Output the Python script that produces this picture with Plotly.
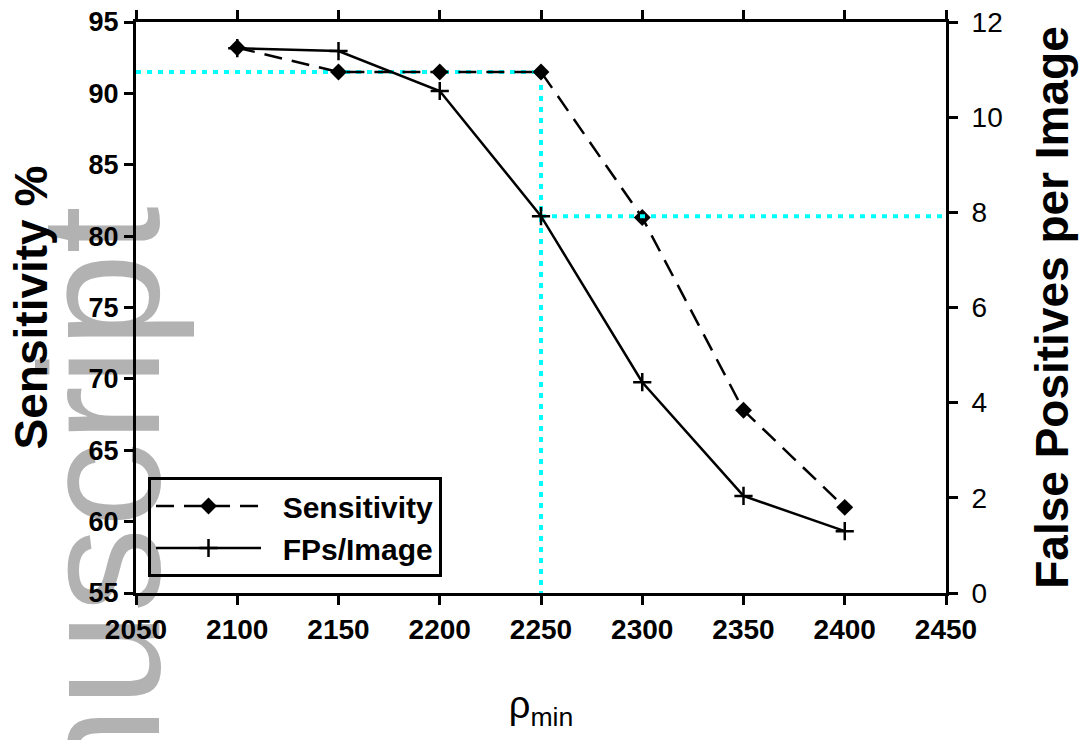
import plotly.graph_objects as go

# ---- data ----
rho_min = [2100, 2150, 2200, 2250, 2300, 2350, 2400]
sensitivity = [93.2, 91.5, 91.5, 91.5, 81.3, 67.8, 61.0]
fps_per_image = [11.45, 11.39, 10.55, 7.92, 4.43, 2.04, 1.30]

# operating-point guide lines (cyan dotted)
op_x = 2250
op_sens = 91.5
op_fp = 7.92
x_range = [2050, 2450]
sens_range = [55, 95]
fp_range = [0, 12]

FONT = "Arial, 'Liberation Sans', sans-serif"
CYAN = "#00FFFF"

fig = go.Figure()

# cyan dotted guides
fig.add_trace(go.Scatter(x=[x_range[0], op_x, op_x], y=[op_sens, op_sens, sens_range[0]],
                         mode="lines", line=dict(color=CYAN, width=4, dash="5px,6px"),
                         showlegend=False, hoverinfo="skip", yaxis="y"))
fig.add_trace(go.Scatter(x=[op_x, x_range[1]], y=[op_fp, op_fp],
                         mode="lines", line=dict(color=CYAN, width=4, dash="5px,6px"),
                         showlegend=False, hoverinfo="skip", yaxis="y2"))

fig.add_trace(go.Scatter(x=rho_min, y=sensitivity, name="  Sensitivity", yaxis="y",
                         mode="lines+markers",
                         line=dict(color="black", width=2.5, dash="18px,10px"),
                         marker=dict(symbol="diamond", size=13, color="black")))
fig.add_trace(go.Scatter(x=rho_min, y=fps_per_image, name="  FPs/Image", yaxis="y2",
                         mode="lines+markers",
                         line=dict(color="black", width=2.5),
                         marker=dict(symbol="cross-thin", size=13, color="black",
                                     line=dict(color="black", width=2.5))))

W, H = 1083, 740
L, R, T, B = 136, 137, 22, 147
pw, ph = W - L - R, H - T - B

def px2paper_x(px):
    return (px - L) / pw

def px2paper_y(py):
    return (H - B - py) / ph

# watermark, behind everything
cx, cy = px2paper_x(84), px2paper_y(622)
fig.add_shape(type="rect", xref="paper", yref="paper",
              x0=cx - 0.005, x1=cx + 0.005, y0=cy - 0.005, y1=cy + 0.005,
              line=dict(width=0), fillcolor="rgba(0,0,0,0)", layer="below",
              label=dict(text="manuscript", textangle=-90, textposition="middle center",
                         font=dict(family=FONT, size=170, color="#b2b2b2")))

axis_common = dict(showline=True, linecolor="black", linewidth=3, ticks="outside",
                   ticklen=9, tickwidth=2.5, tickcolor="black", showgrid=False,
                   zeroline=False)

fig.update_layout(
    width=W, height=H,
    margin=dict(l=L, r=R, t=T, b=B, autoexpand=False),
    paper_bgcolor="white", plot_bgcolor="rgba(0,0,0,0)",
    font=dict(family=FONT, color="black"),
    xaxis=dict(range=x_range, dtick=50, tick0=2050, mirror="ticks",
               tickfont=dict(size=28, family=FONT, weight="bold"),
               title=dict(text="ρ<sub>min</sub>", font=dict(size=38, family=FONT), standoff=48),
               **axis_common),
    yaxis=dict(range=sens_range, dtick=5,
               tickfont=dict(size=27, family=FONT, weight="bold"),
               title=dict(text="Sensitivity %", font=dict(size=46, family=FONT, weight="bold"),
                          standoff=27),
               **axis_common),
    yaxis2=dict(range=fp_range, dtick=2, overlaying="y", side="right",
                tickfont=dict(size=28, family=FONT),
                ticklabelstandoff=8,
                title=dict(text="False Positives per Image",
                           font=dict(size=46, family=FONT, weight="bold"), standoff=35),
                **axis_common),
    legend=dict(x=px2paper_x(148), y=px2paper_y(527), xanchor="left", yanchor="middle",
                bgcolor="rgba(0,0,0,0)", bordercolor="black", borderwidth=3,
                font=dict(size=30, family=FONT, weight="bold"),
                itemwidth=105, tracegroupgap=0),
)

fig.write_html("out.html")
